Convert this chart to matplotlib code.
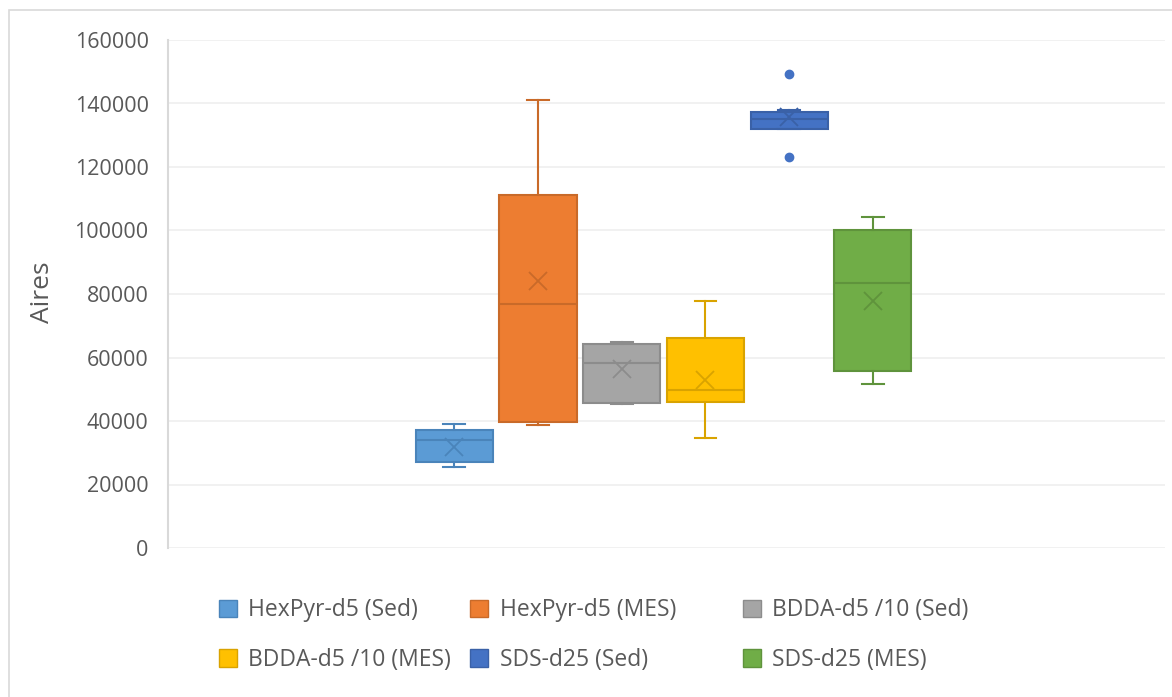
import matplotlib.pyplot as plt
from matplotlib.patches import Patch, Rectangle
import numpy as np

# series (Excel-style: box, whiskers, median, mean x)
labels = ['HexPyr-d5 (Sed)', 'HexPyr-d5 (MES)', 'BDDA-d5 /10 (Sed)',
          'BDDA-d5 /10 (MES)', 'SDS-d25 (Sed)', 'SDS-d25 (MES)']
q1 = [27000, 39700, 45600, 45900, 132000, 55800]
med = [34000, 76800, 58400, 49700, 135100, 83600]
q3 = [37300, 111200, 64300, 66000, 137400, 100100]
whislo = [25400, 38700, 45400, 34600, 132000, 51700]
whishi = [39100, 141200, 64900, 77800, 137900, 104300]
means = [31900, 84100, 56300, 52900, 135700, 77800]
fliers = [[], [], [], [], [149200, 123200], []]

colors = ['#5B9BD5', '#ED7D31', '#A5A5A5', '#FFC000', '#4472C4', '#70AD47']
dark = ['#4A84BA', '#C96A29', '#8C8C8C', '#D9A300', '#3A61A7', '#5F933C']

plt.rcParams['font.family'] = ['Open Sans', 'DejaVu Sans']

fig = plt.figure(figsize=(11.72, 6.97), dpi=100)
ax = fig.add_axes([168 / 1172, 149 / 697, 997 / 1172, 508 / 697])

# chart area border (bottom edge is cut off in the original)
fig.patches.append(Rectangle((9 / 1172, -0.1), 1.0, 1.1 - 10 / 697, transform=fig.transFigure,
                             fill=False, edgecolor='#d9d9d9', linewidth=1.2))

for i in range(len(labels)):
    stats = [dict(q1=q1[i], med=med[i], q3=q3[i], whislo=whislo[i], whishi=whishi[i],
                  mean=means[i], fliers=fliers[i], label=labels[i])]
    ax.bxp(stats, positions=[i], widths=0.92, capwidths=0.26, patch_artist=True,
           showmeans=True,
           boxprops=dict(facecolor=colors[i], edgecolor=dark[i], linewidth=1.5),
           medianprops=dict(color=dark[i], linewidth=1.5),
           whiskerprops=dict(color=dark[i], linewidth=1.5),
           capprops=dict(color=dark[i], linewidth=1.5),
           meanprops=dict(marker='x', markeredgecolor=dark[i], markersize=13, markeredgewidth=1.3),
           flierprops=dict(marker='o', markerfacecolor=colors[i], markeredgecolor=colors[i],
                           markersize=6))

ax.set_xlim(-3.42, 8.49)
ax.set_ylim(0, 160000)
ax.set_yticks(np.arange(0, 160001, 20000))
ax.set_xticks([])
ax.grid(axis='y', color='#efefef', linewidth=1.2)
ax.set_axisbelow(True)
for s in ['top', 'right', 'bottom']:
    ax.spines[s].set_visible(False)
ax.spines['left'].set_color('#d9d9d9')
ax.spines['left'].set_linewidth(1.5)
ax.tick_params(axis='y', length=0, pad=14, labelsize=15.5, labelcolor='#595959')
ax.set_ylabel('Aires', fontsize=19, color='#595959')
ax.yaxis.set_label_coords(-0.1133, 0.504)

handles = [Patch(facecolor=colors[i], edgecolor=dark[i], label=labels[i]) for i in range(6)]
col_x = [210, 461, 734]
for j in range(3):
    fig.legend(handles=[handles[j], handles[j + 3]], loc='upper left',
               bbox_to_anchor=(col_x[j] / 1172, 1 - 589 / 697), frameon=False,
               fontsize=16.5, labelcolor='#595959', handlelength=0.78, handleheight=0.78,
               handletextpad=0.5, labelspacing=1.13, borderaxespad=0)

fig.savefig('out.png', dpi=100)
